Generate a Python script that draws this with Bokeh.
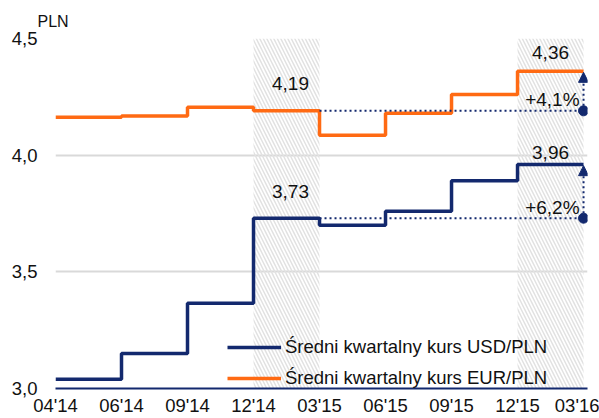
from bokeh.plotting import figure
from bokeh.models import (FixedTicker, CustomJSTickFormatter, BoxAnnotation, Arrow,
                          NormalHead, Title, Legend, LegendItem, Range1d)
from bokeh.core.properties import value
from bokeh.embed import file_html
from bokeh.resources import INLINE

# ---- data ----
tick_labels = ["04'14", "06'14", "09'14", "12'14", "03'15", "06'15", "09'15", "12'15", "03'16"]
usd = [3.04, 3.15, 3.365, 3.73, 3.70, 3.76, 3.89, 3.96]
eur = [4.162, 4.168, 4.205, 4.19, 4.085, 4.18, 4.26, 4.36]
usd_label = "Średni kwartalny kurs USD/PLN"
eur_label = "Średni kwartalny kurs EUR/PLN"
shaded = [3, 7]          # quarters highlighted
ref_q = 3                # reference quarter (12'14-03'15)
last_q = 7               # latest quarter (12'15-03'16)
usd_change = "+6,2%"
eur_change = "+4,1%"

NAVY = "#13296e"
ORANGE = "#ff6a13"
FONT = "Liberation Sans"

xs = list(range(len(tick_labels)))
usd_y = usd + [usd[-1]]
eur_y = eur + [eur[-1]]

p = figure(width=599, height=418, output_backend="svg", toolbar_location=None,
           x_range=Range1d(0, 8.06), y_range=Range1d(3.0, 4.5),
           min_border_left=55, min_border_right=12, min_border_top=38, min_border_bottom=30)
p.outline_line_color = None
p.background_fill_color = "white"

# hatched quarters
for s in shaded:
    p.add_layout(BoxAnnotation(left=s, right=s + 1, fill_alpha=0, line_alpha=0,
                               hatch_pattern="\\", hatch_color="#e2e2e2", hatch_alpha=1,
                               hatch_scale=7, hatch_weight=1.5, level="underlay"))

# axes
p.xaxis.ticker = FixedTicker(ticks=xs)
p.xaxis.major_label_overrides = {i: t for i, t in enumerate(tick_labels)}
p.xaxis.major_tick_line_color = None
p.xaxis.minor_tick_line_color = None
p.xaxis.axis_line_color = NAVY
p.xaxis.axis_line_width = 2
p.xaxis.major_label_text_font = FONT
p.xaxis.major_label_text_font_size = "18.5px"
p.xaxis.major_label_text_color = "#111111"
p.xaxis.major_label_standoff = 0

p.yaxis.ticker = FixedTicker(ticks=[3.0, 3.5, 4.0, 4.5])
p.yaxis.formatter = CustomJSTickFormatter(code="return tick.toFixed(1).replace('.', ',');")
p.yaxis.major_tick_line_color = None
p.yaxis.minor_tick_line_color = None
p.yaxis.axis_line_color = None
p.yaxis.major_label_text_font = FONT
p.yaxis.major_label_text_font_size = "18.5px"
p.yaxis.major_label_text_color = "#111111"
p.yaxis.major_label_standoff = 12

p.xgrid.grid_line_color = None
p.ygrid.grid_line_color = "#d9d9d9"
p.ygrid.grid_line_width = 2

# step lines
r_usd = p.step(xs, usd_y, mode="after", line_color=NAVY, line_width=3.5)
r_eur = p.step(xs, eur_y, mode="after", line_color=ORANGE, line_width=3.5)

# dotted reference lines
for series in (usd, eur):
    p.line([ref_q + 1, len(series)], [series[ref_q], series[ref_q]],
           line_color=NAVY, line_width=2, line_dash="2 3")
    p.scatter([len(series)], [series[ref_q]], size=10, color=NAVY)
    p.add_layout(Arrow(end=NormalHead(size=10, fill_color=NAVY, line_color=NAVY),
                       x_start=len(series), y_start=series[ref_q],
                       x_end=len(series), y_end=series[last_q] - 0.005,
                       line_color=NAVY, line_width=2, line_dash="2 3"))

fmt = lambda v: f"{v:.2f}".replace(".", ",")
# value labels
p.text([ref_q + 0.5, ref_q + 0.5], [eur[ref_q], usd[ref_q]],
       text=[fmt(eur[ref_q]), fmt(usd[ref_q])], x_offset=4, y_offset=-27,
       text_align="center", text_baseline="middle", text_font=value(FONT),
       text_font_size="19px", text_color="#111111")
p.text([last_q + 0.5], [eur[last_q]], text=[fmt(eur[last_q])], y_offset=-19,
       text_align="center", text_baseline="middle", text_font=value(FONT),
       text_font_size="19px", text_color="#111111")
p.text([last_q + 0.5], [usd[last_q]], text=[fmt(usd[last_q])], y_offset=-12,
       text_align="center", text_baseline="middle", text_font=value(FONT),
       text_font_size="19px", text_color="#111111")
p.text([len(eur), len(usd)], [eur[ref_q], usd[ref_q]], text=[eur_change, usd_change],
       x_offset=-4, y_offset=-11, text_align="right", text_baseline="middle",
       text_font=value(FONT), text_font_size="19px", text_color="#111111")

# unit label
p.add_layout(Title(text="PLN", align="left", offset=-18, standoff=17,
                   text_font=FONT, text_font_size="16px", text_font_style="normal",
                   text_color="#111111"), "above")

legend = Legend(items=[LegendItem(label=usd_label, renderers=[r_usd]),
                       LegendItem(label=eur_label, renderers=[r_eur])],
                location=(172, -1), margin=0, padding=0, spacing=9,
                glyph_width=54, glyph_height=20, label_height=20, label_standoff=4,
                label_text_font=FONT, label_text_font_size="18.5px", label_text_color="#111111",
                background_fill_alpha=0, border_line_alpha=0)
p.add_layout(legend)

open("out.html", "w").write(file_html(p, INLINE))
